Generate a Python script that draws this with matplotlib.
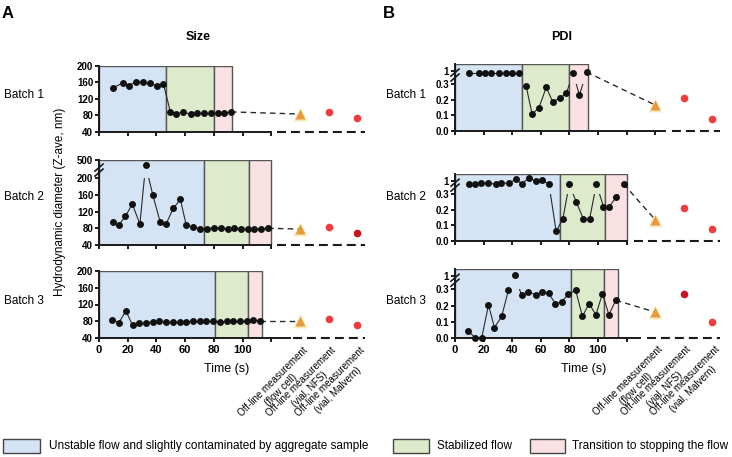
import numpy as np
import matplotlib
matplotlib.use('Agg')
import matplotlib.pyplot as plt
from matplotlib.patches import Rectangle

plt.rcParams['font.family'] = ['Liberation Sans', 'DejaVu Sans']

# ---- data ----
t1 = [9.7, 16.9, 20.7, 25.5, 30.6, 35.8, 40.2, 44.9, 49.7, 53.9, 58.7, 63.8, 68.3, 73.1, 77.8, 82.6, 87.0, 92.0]
t2 = [9.6, 13.8, 18.4, 23.2, 28.5, 32.5, 37.5, 42.7, 46.7, 51.8, 56.7, 60.8, 65.7, 70.7, 75.4, 79.9,
      84.7, 89.8, 94.1, 98.9, 103.8, 107.9, 112.7, 117.9]
t3 = [9.4, 13.9, 18.7, 23.4, 27.6, 32.6, 37.4, 42.0, 46.5, 51.3, 56.4, 60.8, 65.5, 70.2, 74.6, 79.3,
      84.4, 89.1, 93.7, 98.5, 103.1, 107.6, 112.4]

size1 = [146, 159, 151, 161, 160, 157, 151, 156, 88.5, 83, 88, 82, 84.5, 84.5, 84.5, 84.5, 84.5, 88]
size2 = [94.4, 88, 108.8, 138.4, 90.4, 445, 160, 94.4, 90.4, 128, 149.6, 87.2, 83.2, 79.2, 78.4, 81.6,
         80, 78.4, 80.8, 79.2, 79.2, 77.6, 78.4, 80]
size3 = [82.4, 76.8, 105, 70.3, 76.8, 76.8, 78.4, 80, 78.4, 78.4, 78.4, 78.4, 80, 80, 80, 80,
         78.4, 80, 80, 80, 80, 84, 80]

pdi1 = [0.98, 0.98, 0.98, 0.98, 0.98, 0.98, 0.98, 0.98, 0.289, 0.109, 0.149, 0.279, 0.187, 0.209, 0.240,
        0.98, 0.23, 0.99]
pdi2 = [0.979, 0.974, 0.981, 0.981, 0.976, 0.984, 0.981, 1.013, 0.976, 1.025, 0.996, 1.003, 0.976,
        0.060, 0.140, 0.976, 0.25, 0.14, 0.14, 0.976, 0.219, 0.219, 0.281, 0.976]
pdi3 = [0.042, 0.0, 0.0, 0.203, 0.063, 0.132, 0.296, 1.004, 0.264, 0.283, 0.268, 0.283, 0.275, 0.212,
        0.222, 0.273, 0.294, 0.132, 0.212, 0.143, 0.273, 0.143, 0.233]

# end of unstable / stabilized / transition phases (s)
phases1 = [47, 79.8, 93]
phases2 = [73.3, 104.8, 120]
phases3 = [81, 104.1, 113.7]

# off-line measurements: flow cell, vial NFS, vial Malvern
offline_x = [140, 160, 180]
off_size1 = [82.8, 88.5, 72.3]
off_size2 = [78.4, 82.4, 69.6]
off_size3 = [80, 86.4, 70.3]
off_pdi1 = [0.166, 0.208, 0.077]
off_pdi2 = [0.135, 0.208, 0.077]
off_pdi3 = [0.159, 0.273, 0.10]
offline_labels = ['Off-line measurement\n(flow cell)', 'Off-line measurement\n(vial, NFS)',
                  'Off-line measurement\n(vial, Malvern)']

phase_labels = ['Unstable flow and slightly contaminated by aggregate sample', 'Stabilized flow',
                'Transition to stopping the flow']
phase_colors = ['#d5e4f4', '#ddeacc', '#fae2e4']
RED, DARKRED, ORANGE = '#f03c3c', '#c81420', '#e8993a'

W, H = 732, 457
fig = plt.figure(figsize=(W / 100, H / 100), dpi=100)


def fbox(x0, ytop, w, h):
    return [x0 / W, 1 - (ytop + h) / H, w / W, h / H]


def broken(lo_top, hi_bot, k):
    def fwd(y):
        y = np.asarray(y, dtype=float)
        return np.where(y <= lo_top, y, np.where(y >= hi_bot, lo_top + (y - hi_bot) * k, lo_top))

    def inv(f):
        f = np.asarray(f, dtype=float)
        return np.where(f <= lo_top, f, hi_bot + (f - lo_top) / k)
    return fwd, inv


def panel(box, t, v, phases, off, off_cols, ylim, yticks, yticklabels, brk=None,
          axis_end=120, tick_end=120, dash_start=124, bottom=False):
    ax = fig.add_axes(fbox(*box))
    ax.patch.set_alpha(0)
    ax.set_xlim(0, 185)
    if brk:
        ax.set_yscale('function', functions=broken(*brk))
    ax.set_ylim(*ylim)

    x0 = 0
    for x1, c in zip(phases, phase_colors):
        ax.axvspan(x0, x1, facecolor=c, edgecolor='#555555', lw=1, zorder=0)
        x0 = x1

    # connecting lines, cut at the axis break
    for i in range(len(t) - 1):
        ln, = ax.plot(t[i:i + 2], v[i:i + 2], color='#2a2a2a', lw=0.8, zorder=2)
        if brk and (v[i] > brk[0]) != (v[i + 1] > brk[0]):
            ln.set_clip_path(Rectangle((0, ylim[0]), 200, brk[0] - ylim[0], transform=ax.transData))
    ax.plot(t, v, 'o', color='#111111', ms=5, mec='none', clip_on=False, zorder=3)

    ax.plot([t[-1], offline_x[0]], [v[-1], off[0]], color='#2a2a2a', lw=1,
            ls=(0, (4, 3)), zorder=2)
    ax.plot(offline_x[0], off[0], '^', color='#f4e3a0', ms=10, mec='none', alpha=0.7,
            clip_on=False, zorder=3)
    ax.plot(offline_x[0], off[0], '^', color=ORANGE, ms=7, mec='none', clip_on=False, zorder=4)
    for x, y, c in zip(offline_x[1:], off[1:], off_cols):
        ax.plot(x, y, 'o', color=c, ms=5.5, mec='none', clip_on=False, zorder=4)

    for s in ['top', 'right']:
        ax.spines[s].set_visible(False)
    for s in ['left', 'bottom']:
        ax.spines[s].set_linewidth(1.4)
        ax.spines[s].set_color('#1a1a1a')
    ax.spines['bottom'].set_bounds(0, axis_end)
    ax.plot([dash_start, 185], [ylim[0], ylim[0]], color='#1a1a1a', lw=1.5,
            ls=(0, (4.3, 2.4)), clip_on=False, zorder=3)

    ax.set_yticks(yticks)
    ax.set_yticklabels(yticklabels, fontweight='bold')
    ax.set_xticks(range(0, tick_end + 1, 20))
    if bottom:
        ax.set_xticklabels([str(x) if x <= 100 else '' for x in range(0, tick_end + 1, 20)],
                           fontweight='bold')
        for x, lab in zip(offline_x, offline_labels):
            ax.annotate(lab, xy=(x, ylim[0]), xytext=(1.5, -5), textcoords='offset points',
                        rotation=45, ha='right', va='top', rotation_mode='anchor',
                        multialignment='center', fontsize=7)
    else:
        ax.set_xticklabels([])
    ax.tick_params(axis='both', length=3.2, width=1.4, color='#1a1a1a')
    ax.tick_params(axis='y', labelsize=7, pad=1)
    ax.tick_params(axis='x', labelsize=8, pad=2)

    if brk:
        fwd = broken(*brk)[0]
        lo = ylim[0]
        top = float(fwd(ylim[1]))
        yb = (brk[0] + 0.45 * (top - brk[0]) - lo) / (top - lo)
        dx, dy = 4 / box[2], 3.5 / box[3]
        for off_y in (-2.5 / box[3], 2.5 / box[3]):
            ax.plot([-dx, dx], [yb + off_y - dy, yb + off_y + dy], transform=ax.transAxes,
                    color='#1a1a1a', lw=1.2, clip_on=False, zorder=5)
    return ax


SW, PW = 265.5, 264.6
size_ticks = [40, 80, 120, 160, 200]
pdi_ticks = [0.0, 0.1, 0.2, 0.3, 1]
pdi_labels = ['0.0', '0.1', '0.2', '0.3', '1']
pdi_brk = (0.3, 0.9, 0.847)

panel((99, 65.7, SW, 66), t1, size1, phases1, off_size1, [RED, RED], (40, 200),
      size_ticks, [str(y) for y in size_ticks])
panel((99, 160, SW, 85), t2, size2, phases2, off_size2, [RED, DARKRED], (40, 500),
      size_ticks + [500], [str(y) for y in size_ticks] + ['500'], brk=(200, 300, 0.22))
panel((99, 271, SW, 67), t3, size3, phases3, off_size3, [RED, RED], (40, 200),
      size_ticks, [str(y) for y in size_ticks], axis_end=133, dash_start=135.5, bottom=True)

panel((455, 64.1, PW, 67), t1, pdi1, phases1, off_pdi1, [RED, RED], (0, 1.05),
      pdi_ticks, pdi_labels, brk=pdi_brk, axis_end=147, tick_end=140, dash_start=151.5)
panel((455, 174.3, PW, 66.4), t2, pdi2, phases2, off_pdi2, [RED, RED], (0, 1.05),
      pdi_ticks, pdi_labels, brk=pdi_brk, dash_start=125)
panel((455, 269, PW, 68.7), t3, pdi3, phases3, off_pdi3, [DARKRED, RED], (0, 1.05),
      pdi_ticks, pdi_labels, brk=pdi_brk, axis_end=129, dash_start=134, bottom=True)


def ftext(x, y, s, **kw):
    fig.text(x / W, 1 - y / H, s, **kw)


ftext(2, 14, 'A', fontsize=12, fontweight='bold', va='center')
ftext(383, 14, 'B', fontsize=12, fontweight='bold', va='center')
ftext(198, 37, 'Size', fontsize=9, fontweight='bold', ha='center', va='center')
ftext(562, 37, 'PDI', fontsize=9, fontweight='bold', ha='center', va='center')
ftext(60, 202, 'Hydrodynamic diameter (Z-ave, nm)', fontsize=8.5, rotation=90,
      ha='center', va='center')
for x0 in (4, 386):
    for y0, lab in zip((95, 197, 300.5), ('Batch 1', 'Batch 2', 'Batch 3')):
        ftext(x0, y0, lab, fontsize=8.5, va='center')
ftext(227, 369, 'Time (s)', fontsize=9, ha='center', va='center')
ftext(584, 369, 'Time (s)', fontsize=9, ha='center', va='center')

# legend for the flow phases
for (bx, bw, tx), lab, c in zip([(3.3, 36.7, 49), (392.7, 36.3, 436.7), (530, 35, 572.3)],
                                phase_labels, phase_colors):
    fig.add_artist(Rectangle((bx / W, 1 - 453 / H), bw / W, 14 / H, transform=fig.transFigure,
                             facecolor=c, edgecolor='#444444', lw=1))
    ftext(tx, 446, lab, fontsize=8.5, va='center')

fig.savefig('out.png', dpi=100)
